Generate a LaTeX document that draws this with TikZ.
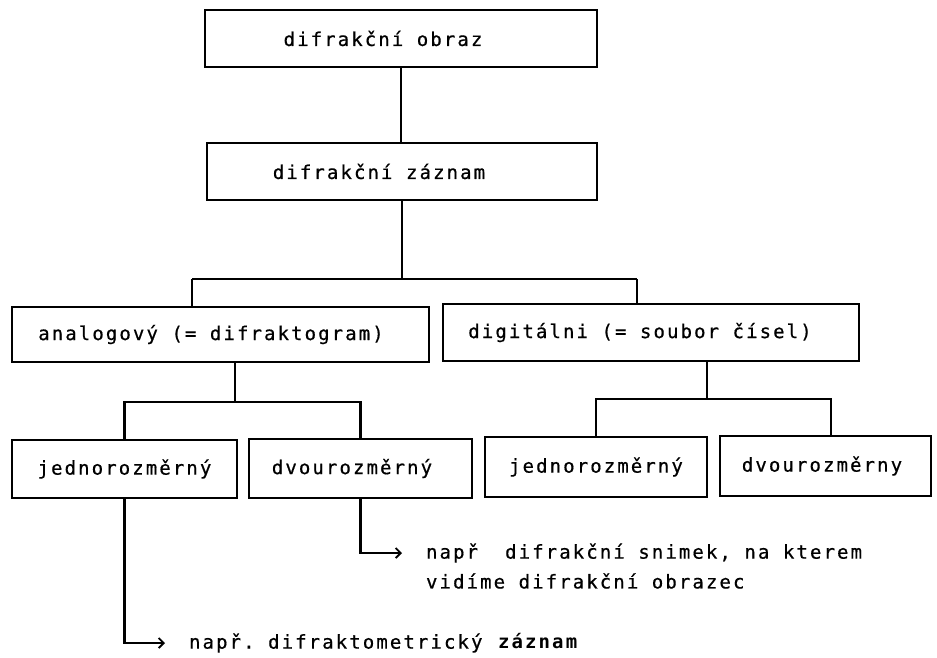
\documentclass[tikz,border=0pt]{standalone}
\usepackage{fontspec}
\setmonofont{DejaVu Sans Mono}[LetterSpace=11, UprightFeatures={FakeBold=0.6}]
\usetikzlibrary{arrows.meta}
\newcommand\txtshift[1]{\hspace*{-#1}}
\begin{document}
\begin{tikzpicture}[x=1pt,y=-1pt, line width=2.1pt,
  txt/.style={font=\ttfamily\fontsize{19}{22}\selectfont},
  box/.style={txt, draw, line width=2pt, inner sep=0pt},
  lbl/.style={txt, anchor=west, inner sep=0pt},
  ln/.style={line width=2.1pt},
  arr/.style={line width=2.1pt, -{Straight Barb[length=5pt,width=10pt,line width=1.9pt]}, shorten >=23pt}]
\useasboundingbox[fill=white] (0,0) rectangle (937,657);

\node[box, minimum width=392pt, minimum height=57pt] (b1) at (401,38.5) {\txtshift{36pt}difrakční obraz};
\node[box, minimum width=390pt, minimum height=57pt] (b2) at (402,171.5) {\txtshift{46pt}difrakční záznam};
\node[box, minimum width=417pt, minimum height=55pt] (an) at (220.5,334.5) {\txtshift{19pt}analogový (= difraktogram)};
\node[box, minimum width=416pt, minimum height=57pt] (dg) at (651,332.5) {\txtshift{22pt}digitálni (= soubor čísel)};
\node[box, minimum width=225pt, minimum height=58pt] (j1) at (124.5,469) {jednorozměrný};
\node[box, minimum width=223pt, minimum height=59pt] (d1) at (360.5,468.5) {\txtshift{17pt}dvourozměrný};
\node[box, minimum width=222pt, minimum height=60pt] (j2) at (596,467) {jednorozměrný};
\node[box, minimum width=211pt, minimum height=60pt] (d2) at (825.5,466) {\txtshift{7pt}dvourozměrny};

\node[lbl] (n2a) at (425,553) {např\ \ difrakční snimek, na kterem};
\node[lbl] (n2b) at (425,581) {vidíme difrakční obrazec};
\node[lbl] (n1) at (188,643) {např. difraktometrický \textbf{záznam}};

% connectors
\draw[ln] (b1.south) -- (b1.south |- b2.north);

\coordinate (m1) at (402,279);
\coordinate (a1) at (192,279);
\coordinate (a2) at (637,279);
\draw[ln] (b2.south) -- (m1);
\draw[ln] (a1) -- (a2);
\draw[ln] (a1) -- (a1 |- an.north);
\draw[ln] (a2) -- (a2 |- dg.north);

\coordinate (m2) at (235,402);
\draw[ln] (m2 |- an.south) -- (m2);
\draw[ln] (j1.north) -- (j1.north |- m2) -- (d1.north |- m2) -- (d1.north);

\coordinate (m3) at (707,399);
\coordinate (c3) at (831,399);
\draw[ln] (m3 |- dg.south) -- (m3);
\draw[ln] (j2.north) -- (j2.north |- m3) -- (c3) -- (c3 |- d2.north);

\draw[arr] (j1.south) |- (n1.west);
\draw[arr] (d1.south) |- (n2a.west);
\end{tikzpicture}
\end{document}
